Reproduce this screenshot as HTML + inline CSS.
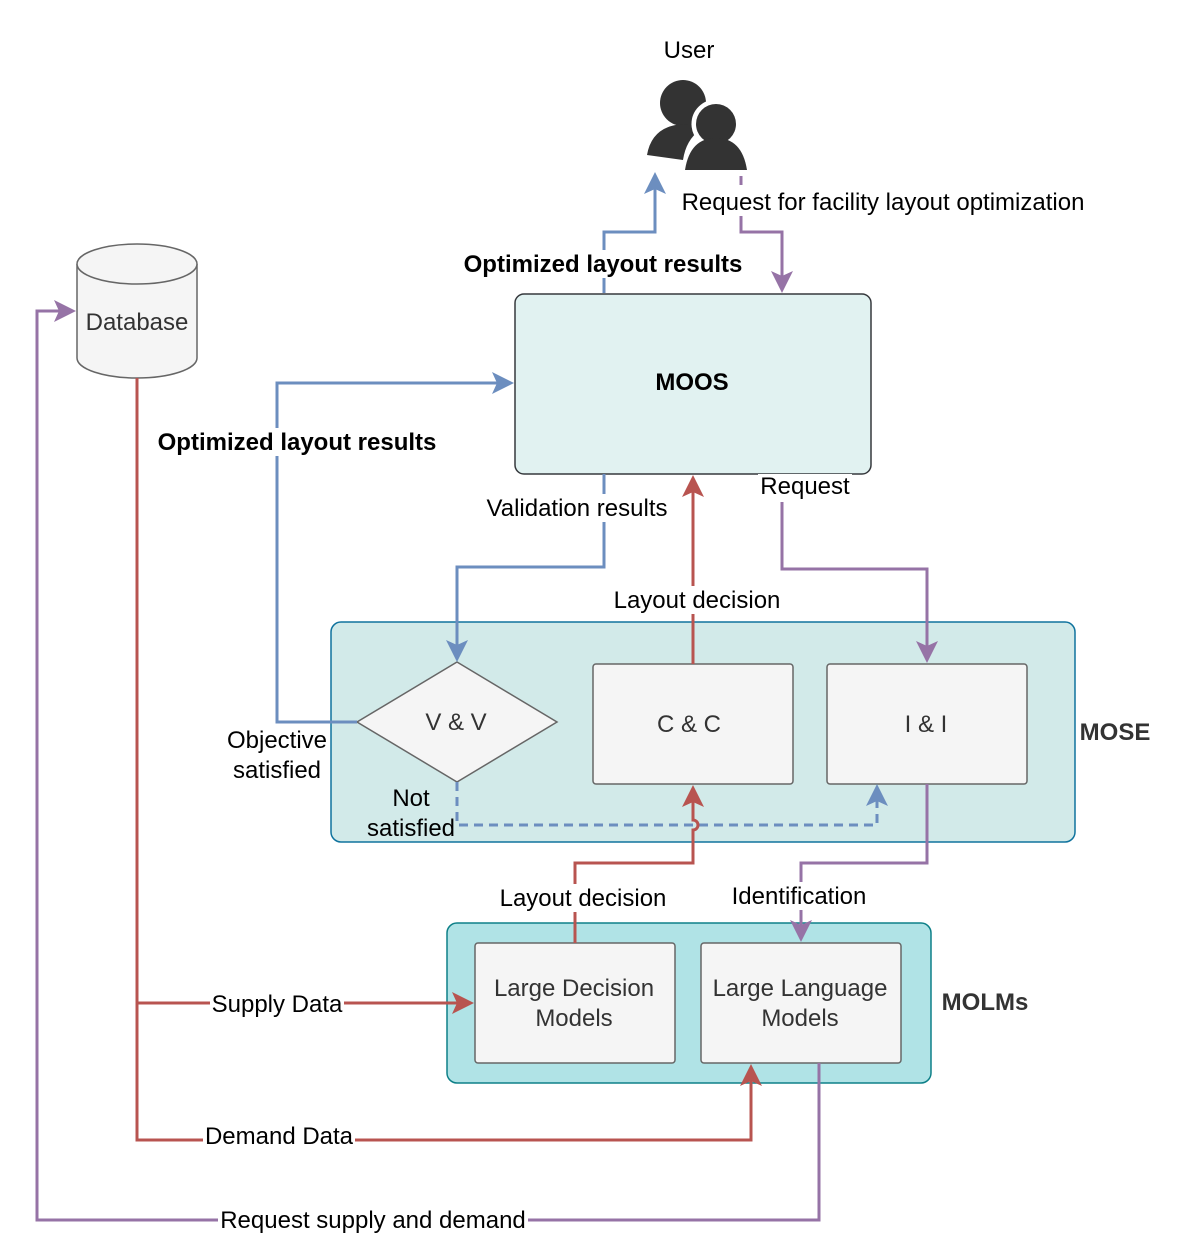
<!DOCTYPE html>
<html><head><meta charset="utf-8"><style>body{margin:0;background:#fff}svg{display:block}text{font-family:"Liberation Sans",sans-serif}</style></head><body>
<svg width="1196" height="1260" viewBox="0 0 1196 1260" xmlns="http://www.w3.org/2000/svg">
<g fill="none" stroke-width="3">
<rect x="331" y="622" width="744" height="220" rx="10" fill="#d2eae9" stroke="#10739e" stroke-width="1.5"/>
<rect x="447" y="923" width="484" height="160" rx="10" fill="#b0e3e6" stroke="#0e8088" stroke-width="1.5"/>
<rect x="515" y="294" width="356" height="180" rx="9" fill="#e1f2f1" stroke="#36393d" stroke-width="1.5"/>
<rect x="593" y="664" width="200" height="120" rx="3" fill="#f5f5f5" stroke="#666" stroke-width="1.5"/>
<rect x="827" y="664" width="200" height="120" rx="3" fill="#f5f5f5" stroke="#666" stroke-width="1.5"/>
<rect x="475" y="943" width="200" height="120" rx="3" fill="#f5f5f5" stroke="#666" stroke-width="1.5"/>
<rect x="701" y="943" width="200" height="120" rx="3" fill="#f5f5f5" stroke="#666" stroke-width="1.5"/>
<path d="M457,662 L557,722 L457,782 L357,722Z" fill="#f5f5f5" stroke="#666" stroke-width="1.5"/>
<path d="M77,264 L77,358 A60,20 0 0 0 197,358 L197,264" fill="#f5f5f5" stroke="#666" stroke-width="1.5"/>
<ellipse cx="137" cy="264" rx="60" ry="20" fill="#f5f5f5" stroke="#666" stroke-width="1.5"/>
<path d="M604,293 V232 H655 V185" stroke="#6c8ebf"/>
<path d="M357,722 H277 V383 H500" stroke="#6c8ebf"/>
<path d="M604,474 V567 H457 V648" stroke="#6c8ebf"/>
<path d="M457,782 V825 H877 V798" stroke="#6c8ebf" stroke-dasharray="9,6"/>
<path d="M741,176 V215" stroke="#9673a6" stroke-dasharray="9,6"/>
<path d="M741,215 V232 H782 V278" stroke="#9673a6"/>
<path d="M782,500 V569 H927 V650" stroke="#9673a6"/>
<path d="M927,784 V863 H801 V928" stroke="#9673a6"/>
<path d="M819,1063 V1220 H37 V311 H62" stroke="#9673a6"/>
<path d="M693,664 V489" stroke="#b85450"/>
<path d="M575,943 V863 H693 V830 A5,5 0 0 0 693,820 V799" stroke="#b85450"/>
<path d="M137,378 V1140 H751 V1078" stroke="#b85450"/>
<path d="M137,1003 H460" stroke="#b85450"/>
</g>
<g>
<path d="M655,172 l-11,22 l11,-5 l11,5z" fill="#6c8ebf"/>
<path d="M514,383 l-22,-11 l5,11 l-5,11z" fill="#6c8ebf"/>
<path d="M457,662 l-11,-22 l11,5 l11,-5z" fill="#6c8ebf"/>
<path d="M877,784 l-11,22 l11,-5 l11,5z" fill="#6c8ebf"/>
<path d="M782,293 l-11,-22 l11,5 l11,-5z" fill="#9673a6"/>
<path d="M927,663 l-11,-22 l11,5 l11,-5z" fill="#9673a6"/>
<path d="M801,942 l-11,-22 l11,5 l11,-5z" fill="#9673a6"/>
<path d="M76,311 l-22,-11 l5,11 l-5,11z" fill="#9673a6"/>
<path d="M693,475 l-11,22 l11,-5 l11,5z" fill="#b85450"/>
<path d="M693,785 l-11,22 l11,-5 l11,5z" fill="#b85450"/>
<path d="M751,1064 l-11,22 l11,-5 l11,5z" fill="#b85450"/>
<path d="M474,1003 l-22,-11 l5,11 l-5,11z" fill="#b85450"/>
</g>
<g fill="#333">
<circle cx="683" cy="103" r="23"/>
<path d="M647,155 Q652,126 683,124 Q700,124 700,130 Q686,140 683,160 Z"/>
<circle cx="716" cy="124" r="22" stroke="#fff" stroke-width="5"/>
<circle cx="716" cy="124" r="20"/>
<path d="M685,170 Q690,138 716,138 Q742,138 747,170 Z"/>
</g>
<g fill="#fff">
<rect x="680" y="188" width="406" height="28"/>
<rect x="462" y="250" width="282" height="28"/>
<rect x="156" y="428" width="282" height="28"/>
<rect x="484" y="494" width="186" height="28"/>
<rect x="758" y="474" width="94" height="28"/>
<rect x="610" y="586" width="174" height="28"/>
<rect x="498" y="884" width="170" height="28"/>
<rect x="730" y="882" width="138" height="28"/>
<rect x="210" y="990" width="134" height="28"/>
<rect x="203" y="1124" width="152" height="28"/>
<rect x="218" y="1206" width="310" height="28"/>
</g>
<g font-size="24" fill="#000" text-anchor="middle">
<text x="689" y="58">User</text>
<text x="883" y="210">Request for facility layout optimization</text>
<text x="603" y="272" font-weight="bold">Optimized layout results</text>
<text x="297" y="450" font-weight="bold">Optimized layout results</text>
<text x="692" y="390" font-weight="bold">MOOS</text>
<text x="577" y="516">Validation results</text>
<text x="805" y="494">Request</text>
<text x="697" y="608">Layout decision</text>
<text x="277" y="748">Objective</text>
<text x="277" y="778">satisfied</text>
<text x="411" y="806">Not</text>
<text x="411" y="836">satisfied</text>
<text x="583" y="906">Layout decision</text>
<text x="799" y="904">Identification</text>
<text x="277" y="1012">Supply Data</text>
<text x="279" y="1144">Demand Data</text>
<text x="373" y="1228">Request supply and demand</text>
<text x="1115" y="740" font-weight="bold" fill="#333">MOSE</text>
<text x="985" y="1010" font-weight="bold" fill="#333">MOLMs</text>
</g>
<g font-size="24" fill="#333" text-anchor="middle">
<text x="137" y="330">Database</text>
<text x="456" y="730">V &amp; V</text>
<text x="689" y="732">C &amp; C</text>
<text x="926" y="732">I &amp; I</text>
<text x="574" y="996">Large Decision</text>
<text x="574" y="1026">Models</text>
<text x="800" y="996">Large Language</text>
<text x="800" y="1026">Models</text>
</g>
</svg>
</body></html>
